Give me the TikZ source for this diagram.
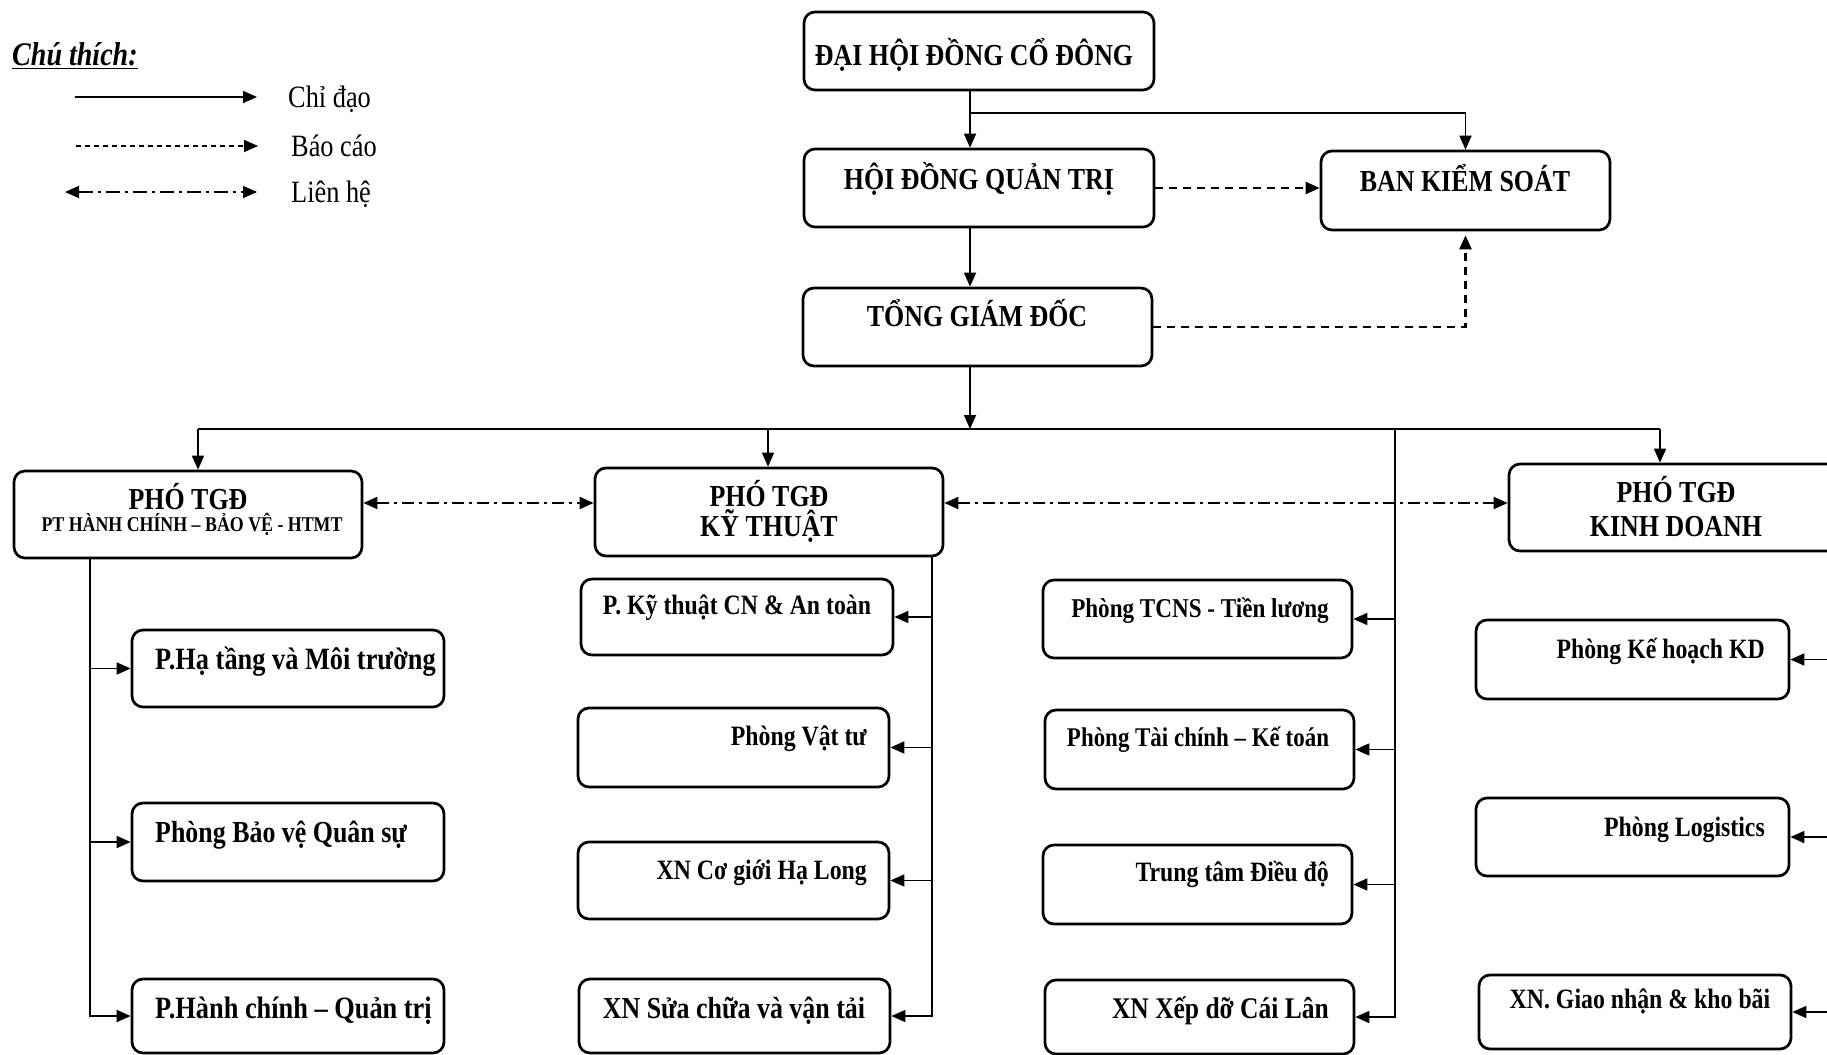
\documentclass[tikz,border=0pt]{standalone}
\usepackage{fontspec}
\setmainfont{Liberation Serif}[FakeStretch=0.85]
\usetikzlibrary{arrows.meta,calc}
\newcommand\orgBig{\fontsize{30.5}{34}\selectfont\bfseries}
\newcommand\orgMid{\fontsize{28}{32}\selectfont\bfseries}
\newcommand\orgSz[1]{\fontsize{#1}{32}\selectfont\bfseries\ignorespaces}
\newcommand\orgSml{\fontsize{21}{24}\selectfont\bfseries}
\newcommand\orgLeg{\fontsize{31}{34}\selectfont}
\begin{document}
\begin{tikzpicture}[x=1pt,y=-1pt,
  box/.style={draw,line width=2.7pt,rounded corners=11pt,inner sep=0pt},
  conn/.style={line width=1.7pt},
  tipe/.style={-{Triangle[length=14pt,width=12pt]}},
  rep/.style={line width=2.4pt,dash pattern=on 8pt off 6pt},
  lh/.style={line width=1.8pt,dash pattern=on 12pt off 5pt on 3pt off 5pt,{Triangle[length=14pt,width=12pt]}-{Triangle[length=14pt,width=12pt]}},
  txt/.style={inner sep=0pt,anchor=base}
]
\useasboundingbox (0,0) rectangle (1827,1054);
\fill[white] (0,0) rectangle (1827,1054);
\clip (0,0) rectangle (1827,1054);

% ---- legend ----
\node[txt,anchor=base west] (legtitle) at (12,66) {\fontsize{33}{36}\selectfont\bfseries\itshape\underline{Chú thích:}};
\node[txt,anchor=base west] (lg1) at (288,108) {\orgLeg Chỉ đạo};
\node[txt,anchor=base west] (lg2) at (291,156) {\orgLeg Báo cáo};
\node[txt,anchor=base west] (lg3) at (291,202) {\orgLeg Liên hệ};
\coordinate (la1) at (75,97);  \coordinate (lb1) at (257,97);
\coordinate (la2) at (76,146); \coordinate (lb2) at (258,146);
\coordinate (la3) at (65,192); \coordinate (lb3) at (257,192);
\draw[conn,tipe] (la1) -- (lb1);
\draw[conn,tipe,dash pattern=on 5pt off 4pt] (la2) -- (lb2);
\draw[lh,line width=1.6pt,dash pattern=on 14pt off 5pt on 3pt off 5pt] (la3) -- (lb3);

% ---- top boxes ----
\node[box,minimum width=350pt,minimum height=78pt] (dh) at (979,51) {};
\node[box,minimum width=350pt,minimum height=78pt] (hdqt) at (979,188) {};
\node[box,minimum width=289pt,minimum height=79pt] (bks) at (1465.5,190.5) {};
\node[box,minimum width=349pt,minimum height=78pt] (tgd) at (977.5,327) {};
\node[txt] (tdh) at (974,66) {\orgBig ĐẠI HỘI ĐỒNG CỔ ĐÔNG};
\node[txt] (thdqt) at (979,189) {\orgBig HỘI ĐỒNG QUẢN TRỊ};
\node[txt] (tbks) at (1465,191) {\orgBig BAN KIỂM SOÁT};
\node[txt] (ttgd) at (977,326) {\orgBig TỔNG GIÁM ĐỐC};

% ---- deputies ----
\node[box,minimum width=348pt,minimum height=87pt] (phc) at (188,514.5) {};
\node[box,minimum width=348pt,minimum height=88pt] (pkt) at (769,512) {};
\node[box,minimum width=336pt,minimum height=87pt] (pkd) at (1677,507.5) {};
\node[txt] (tphc1) at (188,509) {\orgBig PHÓ TGĐ};
\node[txt] (tphc2) at (192,531) {\orgSml PT HÀNH CHÍNH – BẢO VỆ - HTMT};
\node[txt] (tpkt1) at (769,506) {\orgBig PHÓ TGĐ};
\node[txt] (tpkt2) at (769,536) {\orgBig KỸ THUẬT};
\node[txt] (tpkd1) at (1676,502) {\orgBig PHÓ TGĐ};
\node[txt] (tpkd2) at (1676,536) {\orgBig KINH DOANH};

% ---- departments ----
\node[box,minimum width=312pt,minimum height=77pt] (ht) at (288,668.5) {};
\node[box,minimum width=312pt,minimum height=78pt] (bv) at (288,842) {};
\node[box,minimum width=312pt,minimum height=74pt] (hc) at (288,1016) {};
\node[box,minimum width=312pt,minimum height=76pt] (kt1) at (737,617) {};
\node[box,minimum width=311pt,minimum height=79pt] (kt2) at (733.5,747.5) {};
\node[box,minimum width=311pt,minimum height=77pt] (kt3) at (733.5,880.5) {};
\node[box,minimum width=311pt,minimum height=74pt] (kt4) at (734.5,1016) {};
\node[box,minimum width=309pt,minimum height=78pt] (m1) at (1197.5,619) {};
\node[box,minimum width=309pt,minimum height=79pt] (m2) at (1199.5,749.5) {};
\node[box,minimum width=309pt,minimum height=79pt] (m3) at (1197.5,884.5) {};
\node[box,minimum width=309pt,minimum height=74pt] (m4) at (1199.5,1017) {};
\node[box,minimum width=313pt,minimum height=79pt] (kd1) at (1632.5,659.5) {};
\node[box,minimum width=313pt,minimum height=78pt] (kd2) at (1632.5,837) {};
\node[box,minimum width=312pt,minimum height=74pt] (kd3) at (1635,1012) {};

\node[txt,anchor=base west] (tht) at (155,669) {\orgSz{31}P.Hạ tầng và Môi trường};
\node[txt,anchor=base west] (tbv) at (155,842) {\orgSz{30.5}Phòng Bảo vệ Quân sự};
\node[txt,anchor=base west] (thc) at (155,1018) {\orgSz{31}P.Hành chính – Quản trị};
\node[txt] (tkt1) at (737,614) {\orgMid P. Kỹ thuật CN \& An toàn};
\node[txt,anchor=base east] (tkt2) at (867,745) {\orgMid Phòng Vật tư};
\node[txt,anchor=base east] (tkt3) at (867,879) {\orgMid XN Cơ giới Hạ Long};
\node[txt] (tkt4) at (734,1018) {\orgSz{30.5}XN Sửa chữa và vận tải};
\node[txt] (tm1) at (1200,617) {\orgSz{27.2}Phòng TCNS - Tiền lương};
\node[txt] (tm2) at (1198,746) {\orgSz{27}Phòng Tài chính – Kế toán};
\node[txt,anchor=base east] (tm3) at (1329,881) {\orgMid Trung tâm Điều độ};
\node[txt,anchor=base east] (tm4) at (1329,1018) {\orgSz{30}XN Xếp dỡ Cái Lân};
\node[txt,anchor=base east] (tkd1) at (1765,658) {\orgMid Phòng Kế hoạch KD};
\node[txt,anchor=base east] (tkd2) at (1765,836) {\orgMid Phòng Logistics};
\node[txt] (tkd3) at (1640,1008) {\orgMid XN. Giao nhận \& kho bãi};

% ---- top connectors ----
\coordinate (cv) at (970,113);
\coordinate (br) at (970,429);
\draw[conn,tipe] (dh.south -| cv) -- (hdqt.north -| cv);
\draw[conn,tipe] (cv) -| (bks.north);
\draw[rep,tipe] (hdqt.east) -- (hdqt.east -| bks.west);
\draw[rep,tipe,shorten >=4pt] (tgd.east) -| (bks.south);
\draw[conn,tipe] (hdqt.south -| cv) -- (tgd.north -| cv);
\draw[conn,tipe] (tgd.south -| cv) -- (br);

% ---- branch line ----
\coordinate (bl) at (198,429);
\coordinate (brk) at (768,429);
\coordinate (brd) at (1660,429);
\coordinate (mv) at (1395,429);
\draw[conn] (bl) -- (brd);
\draw[conn,tipe] (bl) -- (bl |- phc.north);
\draw[conn,tipe] (brk) -- (brk |- pkt.north);
\draw[conn,tipe] (brd) -- (brd |- pkd.north);

% ---- liên hệ ----
\coordinate (ylh) at (0,503);
\draw[lh] (phc.east |- ylh) -- (pkt.west |- ylh);
\draw[lh] (pkt.east |- ylh) -- (pkd.west |- ylh);

% ---- left column ----
\coordinate (lv) at (90,558);
\draw[conn,tipe] (lv) |- (hc.west);
\draw[conn,tipe] (ht.west -| lv) -- (ht.west);
\draw[conn,tipe] (bv.west -| lv) -- (bv.west);

% ---- technical column ----
\coordinate (kv) at (932,556);
\draw[conn,tipe] (kv) |- (kt4.east);
\draw[conn,tipe] (kt1.east -| kv) -- (kt1.east);
\draw[conn,tipe] (kt2.east -| kv) -- (kt2.east);
\draw[conn,tipe] (kt3.east -| kv) -- (kt3.east);

% ---- middle column ----
\draw[conn,tipe] (mv) |- (m4.east);
\draw[conn,tipe] (m1.east -| mv) -- (m1.east);
\draw[conn,tipe] (m2.east -| mv) -- (m2.east);
\draw[conn,tipe] (m3.east -| mv) -- (m3.east);

% ---- business column ----
\coordinate (rv) at (1840,600);
\draw[conn] (rv) -- (rv |- kd3.east);
\draw[conn,tipe] (kd1.east -| rv) -- (kd1.east);
\draw[conn,tipe] (kd2.east -| rv) -- (kd2.east);
\draw[conn,tipe] (kd3.east -| rv) -- (kd3.east);
\end{tikzpicture}
\end{document}
